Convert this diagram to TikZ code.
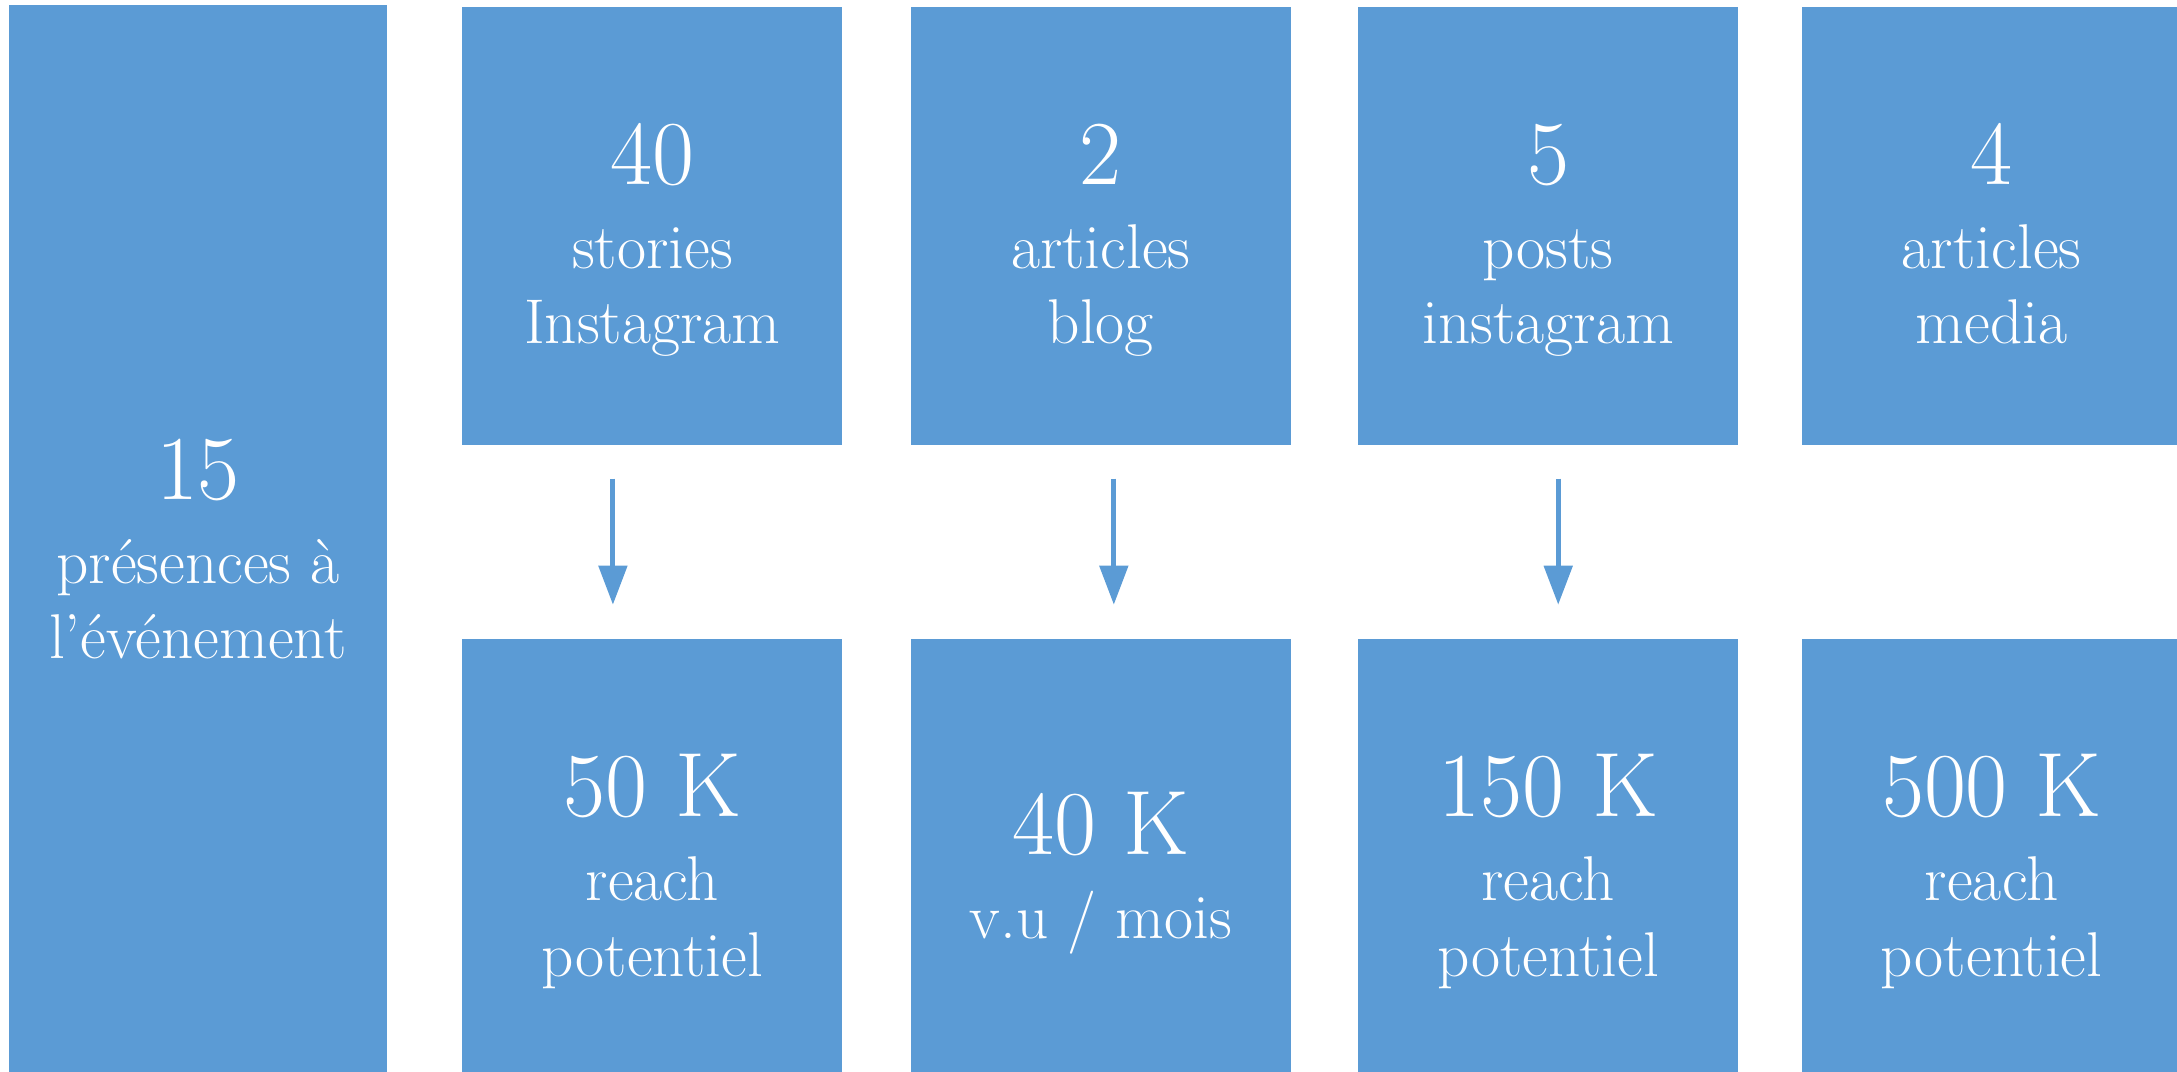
\documentclass[tikz,border=0pt]{standalone}
\usepackage{tikz}
\usetikzlibrary{arrows.meta,positioning}
\definecolor{boxblue}{HTML}{5B9BD5}
\newcommand{\bignum}[1]{{\fontsize{26}{30}\selectfont #1}}
\tikzset{
    box/.style={fill=boxblue, text=white, inner sep=0pt, minimum width=3.8cm, align=center, font=\fontsize{18}{21.6}\selectfont, text depth=0pt},
    topbox/.style={box, minimum height=4.38cm, text height=2.36cm},
    lowbox/.style={box, minimum height=4.34cm, text height=2.40cm},
    flow/.style={draw=boxblue, line width=0.05cm, -{Triangle[length=0.39cm,width=0.28cm]}, shorten <=0.33cm, shorten >=0.34cm}
}
\begin{document}
\begin{tikzpicture}
    \useasboundingbox (0,0) rectangle (21.77,-10.72);
    \node[box, minimum width=3.78cm, minimum height=10.67cm, text height=2.41cm] (presence) at (1.98,-5.385) {\bignum{15}\\[2.3pt]présences à\\l’événement};
    \node[topbox, right=0.74cm of presence.north east, anchor=north west, yshift=-0.02cm] (stories) {\bignum{40}\\[2.3pt]stories\\Instagram};
    \node[topbox, right=0.67cm of stories] (blog) {\bignum{2}\\[2.3pt]articles\\blog};
    \node[topbox, right=0.66cm of blog] (posts) {\bignum{5}\\[2.3pt]posts\\instagram};
    \node[topbox, right=0.62cm of posts] (media) {\bignum{4}\\[2.3pt]articles\\media};

    \node[lowbox, below=1.93cm of stories] (reachstories) {\bignum{50 K}\\[2.3pt]reach\\potentiel};
    \node[lowbox, below=1.93cm of blog, text height=1.64cm] (visits) {\bignum{40 K}\\[2.3pt]v.u / mois};
    \node[lowbox, below=1.93cm of posts] (reachposts) {\bignum{150 K}\\[2.3pt]reach\\potentiel};
    \node[lowbox, below=1.93cm of media] (reachmedia) {\bignum{500 K}\\[2.3pt]reach\\potentiel};

    \draw[flow] ([xshift=-0.395cm]stories.south) -- ([xshift=-0.395cm]reachstories.north);
    \draw[flow] ([xshift=0.13cm]blog.south) -- ([xshift=0.13cm]visits.north);
    \draw[flow] ([xshift=0.10cm]posts.south) -- ([xshift=0.10cm]reachposts.north);
\end{tikzpicture}
\end{document}
